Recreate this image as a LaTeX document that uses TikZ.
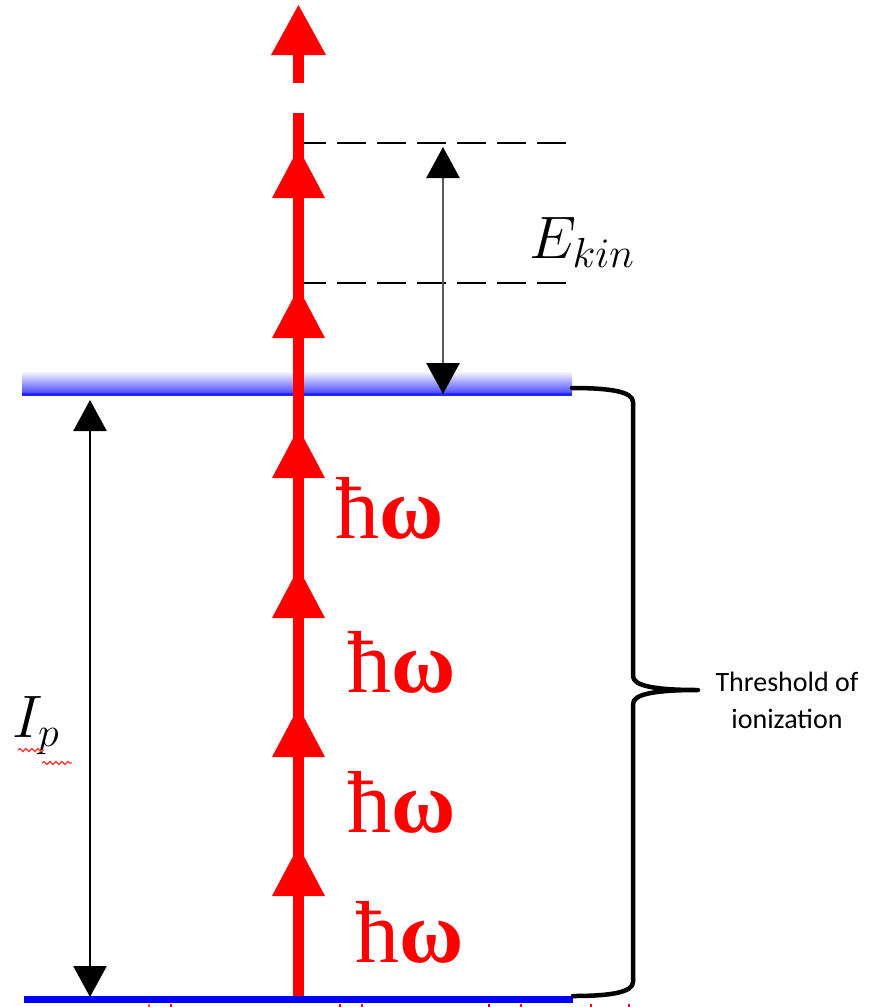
\RequirePackage{fix-cm}
\documentclass[tikz,border=0pt]{standalone}
\usepackage{fontspec}
\usetikzlibrary{arrows.meta,decorations.pathmorphing}
\newfontfamily\hwfont{Liberation Serif}
\newfontfamily\lblfont{Carlito}
\definecolor{barblue}{RGB}{0,0,255}
\definecolor{photon}{RGB}{255,0,0}
\tikzset{
  photonline/.style={photon, line width=11pt},
  photonhead/.style={fill=photon},
  levelline/.style={barblue, line width=7pt},
  guide/.style={black, line width=2.2pt, dash pattern=on 29pt off 11pt},
  dimarrow/.style={line width=2.6pt, {Triangle[width=33pt,length=31pt,color=black]}-{Triangle[width=33pt,length=31pt,color=black]}},
  hwlabel/.style={anchor=base west, inner sep=0pt, text=photon, font=\hwfont\fontsize{88}{88}\selectfont},
  bracestyle/.style={line width=4.5pt, line cap=round, line join=round},
  squiggle/.style={red!75, line width=1.3pt, decorate, decoration={snake, amplitude=1.5pt, segment length=6pt}},
  tick/.style={line width=2pt}
}
\begin{document}
\begin{tikzpicture}[x=1pt,y=-1pt]
\useasboundingbox (0,0) rectangle (877,1007);
% ionization level (gradient bar)
\shade[top color=blue!4, bottom color=blue!70] (22,372) rectangle (572,393);
\fill[blue!85] (22,393) rectangle (572,396);
\coordinate (barend) at (572,388);
% ground level
\coordinate (g0) at (24,999.5);
\coordinate (g1) at (573,999.5);
\draw[levelline] (g0) -- (g1);
% small marks below ground line
\foreach \x/\c in {149/orange!80!red,171/red!80!magenta,340/red,362/red!80!magenta,489/red!70!black,521/red!80!magenta,591/red,629/red!80!magenta}
  \draw[tick,\c] (\x,1003.5) -- (\x,1007);
% dashed guides
\coordinate (d1a) at (297,143); \coordinate (d1b) at (566,143);
\coordinate (d2a) at (297,283); \coordinate (d2b) at (566,283);
\draw[guide] (d1a) -- (d1b);
\draw[guide] (d2a) -- (d2b);
% photon ladder
\coordinate (pbot) at (298.5,996);
\coordinate (ptop) at (298.5,113);
\draw[photonline] (pbot) -- (ptop);
\foreach \b in {198,338,478,618,757,896}
  \fill[photonhead] (298.5,\b-50) -- (272,\b) -- (325,\b) -- cycle;
% top detached arrow
\fill[photon] (293,54) rectangle (304,83);
\fill[photonhead] (298.5,5) -- (271,55) -- (326,55) -- cycle;
% E_kin arrow
\coordinate (ek1) at (443,147);
\coordinate (ek2) at (443,394);
\draw[dimarrow, black!65] (ek1) -- (ek2);
\node[anchor=base west, inner sep=0pt] (ekin) at (529,258) {\fontsize{60}{60}\selectfont$E_{kin}$};
% I_p arrow
\coordinate (ip1) at (90,400);
\coordinate (ip2) at (90,997);
\draw[dimarrow, black] (ip1) -- (ip2);
\node[anchor=base west, inner sep=0pt] (ip) at (12,737) {\fontsize{60}{60}\selectfont$I_{p}$};
\draw[squiggle] (18,750) -- (44,750);
\draw[squiggle] (42,763) -- (72,763);
% photon energy labels
\node[hwlabel] (hw1) at (335,538) {ħ\textbf{ω}};
\node[hwlabel] (hw2) at (347,692) {ħ\textbf{ω}};
\node[hwlabel] (hw3) at (347,832) {ħ\textbf{ω}};
\node[hwlabel] (hw4) at (355,962) {ħ\textbf{ω}};
% brace
\coordinate (btip) at (698,690);
\draw[bracestyle] (barend) .. controls (612,388) and (633,392) .. (633,402) -- (633,676)
  .. controls (633,686) and (655,690) .. (btip)
  .. controls (655,690) and (633,694) .. (633,704) -- (633,982)
  .. controls (633,992) and (612,996) .. (573,996);
\node[align=center, inner sep=0pt, font=\lblfont\fontsize{28}{37}\selectfont] (thr) at (787,700) {Threshold of\\ionization};
\end{tikzpicture}
\end{document}
